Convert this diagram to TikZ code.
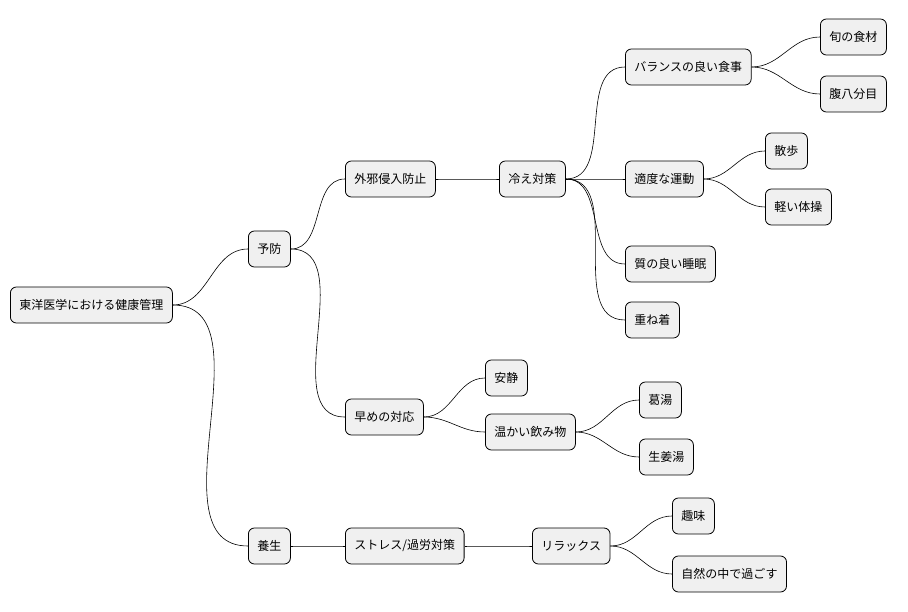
\documentclass[tikz,border=0pt]{standalone}
\usepackage{fontspec}
\setmainfont{Noto Sans CJK JP}
\begin{document}
\begin{tikzpicture}[x=1pt,y=-1pt]
    \tikzstyle{topic}=[draw=black, fill=black!6, rounded corners=6pt, line width=0.8pt,
        minimum height=36pt, inner xsep=9pt, anchor=west, font=\fontsize{12}{14}\selectfont]
    \tikzstyle{branch}=[black, line width=0.6pt]
    \useasboundingbox (0,0) rectangle (908,612);
    \node [topic] (root) at (10,305) {東洋医学における健康管理};
    \node [topic] (yobo) at (248,249) {予防};
    \node [topic] (yojo) at (248,546) {養生};
    \node [topic] (gaija) at (345,179) {外邪侵入防止};
    \node [topic] (hayame) at (345,417) {早めの対応};
    \node [topic] (stress) at (345,546) {ストレス/過労対策};
    \node [topic] (hie) at (499,179) {冷え対策};
    \node [topic] (shokuji) at (625,67) {バランスの良い食事};
    \node [topic] (undo) at (625,179) {適度な運動};
    \node [topic] (suimin) at (625,264) {質の良い睡眠};
    \node [topic] (kasane) at (625,320) {重ね着};
    \node [topic] (shun) at (820,37) {旬の食材};
    \node [topic] (hara) at (820,94) {腹八分目};
    \node [topic] (sanpo) at (765,151) {散歩};
    \node [topic] (taiso) at (765,207) {軽い体操};
    \node [topic] (ansei) at (485,378) {安静};
    \node [topic] (nomi) at (485,432) {温かい飲み物};
    \node [topic] (kuzu) at (639,400) {葛湯};
    \node [topic] (shoga) at (639,457) {生姜湯};
    \node [topic] (relax) at (532,546) {リラックス};
    \node [topic] (shumi) at (672,516) {趣味};
    \node [topic] (shizen) at (672,574) {自然の中で過ごす};
    % connectors
    \foreach \a/\b in {root/yobo, root/yojo, yobo/gaija, yobo/hayame, yojo/stress,
        gaija/hie, hie/shokuji, hie/undo, hie/suimin, hie/kasane, shokuji/shun,
        shokuji/hara, undo/sanpo, undo/taiso, hayame/ansei, hayame/nomi,
        nomi/kuzu, nomi/shoga, stress/relax, relax/shumi, relax/shizen}
        \draw [branch] (\a.east) to[out=0, in=180] (\b.west);
\end{tikzpicture}
\end{document}
